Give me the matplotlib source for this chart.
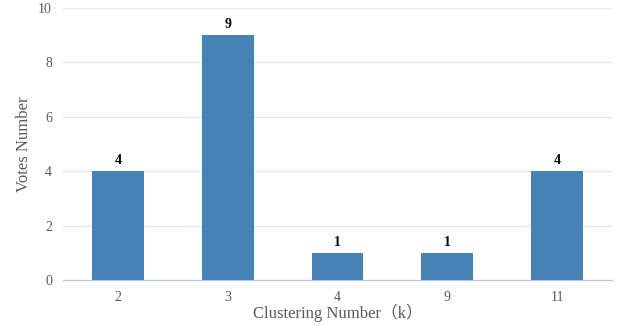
import matplotlib
matplotlib.use("Agg")
import matplotlib.pyplot as plt

categories = ["2", "3", "4", "9", "11"]
votes = [4, 9, 1, 1, 4]
y_ticks = [0, 2, 4, 6, 8, 10]

plt.rcParams['font.family'] = ['Liberation Serif', 'Noto Sans CJK SC', 'DejaVu Serif']

fig = plt.figure(figsize=(6.19, 3.26), dpi=100)
ax = fig.add_axes([63 / 619, 46 / 326, 549 / 619, 272 / 326])

x = list(range(len(categories)))
bars = ax.bar(x, votes, width=0.47, color="#4682b4", zorder=3)
for b, v in zip(bars, votes):
    ax.text(b.get_x() + b.get_width() / 2, v + 0.15, str(v), ha="center", va="bottom",
            fontsize=10, fontweight="bold", color="black")

ax.set_xlim(-0.5, len(categories) - 0.5)
ax.set_ylim(0, 10)
ax.set_yticks(y_ticks)
ax.set_xticks(x)
ax.set_xticklabels(categories)
ax.yaxis.grid(True, color="#e3e6ee", linewidth=1, zorder=0)
for s in ["top", "right", "left"]:
    ax.spines[s].set_visible(False)
ax.spines["bottom"].set_color("#b4c7e7")
ax.tick_params(axis="both", length=0, colors="#595959", labelsize=10, pad=8)
ax.set_xlabel("Clustering Number（k）", fontsize=12, color="#595959", labelpad=0)
ax.set_ylabel("Votes Number", fontsize=12, color="#595959", labelpad=4)

fig.savefig("out.png", dpi=100)
